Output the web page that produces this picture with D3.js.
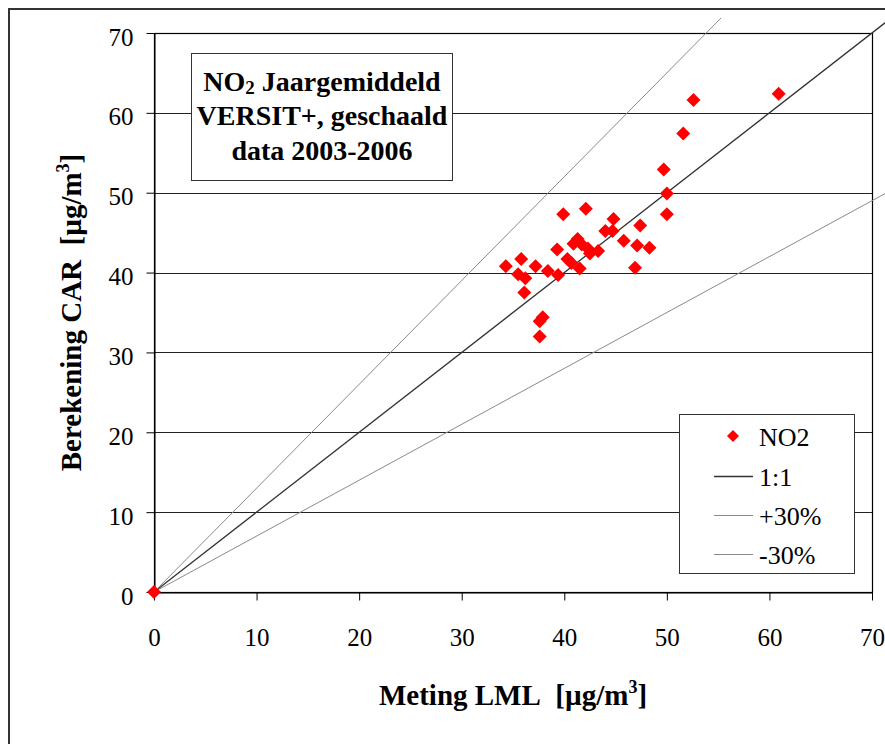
<!DOCTYPE html>
<html>
<head>
<meta charset="utf-8">
<script src="https://cdn.jsdelivr.net/npm/d3@7"></script>
<style>
  body { margin: 0; background: #fff; }
  svg { display: block; font-family: "Liberation Serif", "Times New Roman", serif; }
</style>
</head>
<body>
<div id="chart"></div>
<script>
// measured (Meting LML) vs computed (Berekening CAR), µg/m3
const meting = [0, 34.3, 35.8, 35.5, 36.2, 36.1, 37.2, 38.4, 39.4, 39.3, 37.6, 37.9, 37.6,
  39.9, 42.1, 44.8, 44.0, 44.7, 47.4, 45.8, 47.1, 48.3, 46.9, 41.3, 40.9, 41.7, 42.3,
  42.5, 43.3, 40.3, 40.7, 41.5, 49.7, 50.0, 50.0, 51.6, 52.6, 60.9];
const berekening = [0, 40.8, 41.7, 39.8, 39.3, 37.5, 40.8, 40.2, 39.7, 42.9, 33.9, 34.4, 32.0,
  47.3, 48.0, 46.7, 45.2, 45.2, 45.9, 44.0, 43.4, 43.1, 40.6, 44.2, 43.6, 43.5, 43.0,
  42.4, 42.7, 41.7, 41.2, 40.5, 52.9, 49.9, 47.3, 57.4, 61.6, 62.4];

// reference lines: start and end points [x, y]
const refNames = ['1:1', '+30%', '-30%'];
const refLines = [
  [[0, 0], [71.3, 71.3]],
  [[0, 0], [55.3, 71.9]],
  [[0, 0], [71.5, 50.05]]
];
const refColors = ['#333', '#8a8a8a', '#8a8a8a'];

const xTicks = [0, 10, 20, 30, 40, 50, 60, 70];
const yTicks = [0, 10, 20, 30, 40, 50, 60, 70];

const W = 885, H = 744;
const margin = { left: 154, top: 33, right: 13, bottom: 152 };
const pw = W - margin.left - margin.right;
const ph = H - margin.top - margin.bottom;

const svg = d3.select('#chart').append('svg')
  .attr('width', W).attr('height', H);

// outer chart border (runs off the page on right/bottom)
svg.append('rect')
  .attr('x', 9).attr('y', 9).attr('width', W).attr('height', H)
  .attr('fill', '#fff').attr('stroke', '#333').attr('stroke-width', 2);

const x = d3.scaleLinear().domain([0, 70]).range([margin.left, margin.left + pw]);
const y = d3.scaleLinear().domain([0, 70]).range([margin.top + ph, margin.top]);

// gridlines
svg.append('g')
  .selectAll('line')
  .data(yTicks.slice(1))
  .join('line')
  .attr('x1', x(0)).attr('x2', x(70))
  .attr('y1', d => Math.round(y(d)) + 0.5).attr('y2', d => Math.round(y(d)) + 0.5)
  .attr('stroke', '#222').attr('stroke-width', 1);

// plot border
svg.append('rect')
  .attr('x', x(0) + 0.5).attr('y', Math.round(y(70)) + 0.5)
  .attr('width', x(70) - x(0)).attr('height', y(0) - y(70))
  .attr('fill', 'none').attr('stroke', '#000').attr('stroke-width', 1.2);

// axes
const xAxis = svg.append('g')
  .attr('transform', `translate(0,${Math.round(y(0)) + 0.5})`)
  .call(d3.axisBottom(x).tickValues(xTicks).tickSize(8).tickSizeOuter(0));
xAxis.select('.domain').attr('stroke', '#000');
xAxis.selectAll('.tick line').attr('stroke', '#000');
xAxis.selectAll('text')
  .attr('y', 53).attr('dy', 0)
  .attr('font-size', 25).attr('fill', '#000')
  .attr('font-family', '"Liberation Serif", "Times New Roman", serif');

const yAxis = svg.append('g')
  .attr('transform', `translate(${x(0) + 0.5},0)`)
  .call(d3.axisLeft(y).tickValues(yTicks).tickSize(8).tickPadding(13).tickSizeOuter(0));
yAxis.select('.domain').attr('stroke', '#000');
yAxis.selectAll('.tick line').attr('stroke', '#000');
yAxis.selectAll('text')
  .attr('dy', '0.48em')
  .attr('font-size', 25).attr('fill', '#000')
  .attr('font-family', '"Liberation Serif", "Times New Roman", serif');

// reference lines
const line = d3.line().x(d => x(d[0])).y(d => y(d[1]));
svg.append('g')
  .selectAll('path')
  .data(refLines)
  .join('path')
  .attr('d', line)
  .attr('fill', 'none')
  .attr('stroke', (d, i) => refColors[i])
  .attr('stroke-width', (d, i) => i === 0 ? 1.3 : 1);

// diamonds
const diamond = r => `M0,${-r}L${r},0L0,${r}L${-r},0Z`;
svg.append('g')
  .selectAll('path')
  .data(meting.map((m, i) => [m, berekening[i]]))
  .join('path')
  .attr('transform', d => `translate(${x(d[0])},${y(d[1])})`)
  .attr('d', diamond(7))
  .attr('fill', '#ff0000');

// title box
const tb = svg.append('g');
tb.append('rect')
  .attr('x', 191.5).attr('y', 53.5).attr('width', 261).attr('height', 127)
  .attr('fill', '#fff').attr('stroke', '#333').attr('stroke-width', 1);
const tt = tb.append('text')
  .attr('text-anchor', 'middle')
  .attr('font-weight', 'bold').attr('font-size', 28).attr('fill', '#000');
const l1 = tt.append('tspan').attr('x', 322).attr('y', 91);
l1.append('tspan').text('NO');
l1.append('tspan').attr('font-size', 19).attr('dy', 3).text('2');
l1.append('tspan').attr('dy', -3).text(' Jaargemiddeld');
tt.append('tspan').attr('x', 322).attr('y', 125).text('VERSIT+, geschaald');
tt.append('tspan').attr('x', 322).attr('y', 160).text('data 2003-2006');

// legend
const lg = svg.append('g');
lg.append('rect')
  .attr('x', 679.5).attr('y', 414.5).attr('width', 175).attr('height', 159)
  .attr('fill', '#fff').attr('stroke', '#333').attr('stroke-width', 1);
lg.append('path')
  .attr('transform', 'translate(733,436)')
  .attr('d', diamond(6)).attr('fill', '#ff0000');
lg.append('text')
  .attr('x', 759).attr('y', 446)
  .attr('font-size', 26).attr('fill', '#000').text('NO2');
refNames.forEach((name, i) => {
  const ly = 476 + i * 39;
  lg.append('line')
    .attr('x1', 714).attr('x2', 753).attr('y1', ly + 0.5).attr('y2', ly + 0.5)
    .attr('stroke', refColors[i]).attr('stroke-width', i === 0 ? 1.3 : 1);
  lg.append('text')
    .attr('x', 759).attr('y', ly + 10)
    .attr('font-size', 26).attr('fill', '#000').text(name);
});

// axis titles
const xt = svg.append('text')
  .attr('x', x(35)).attr('y', 705)
  .attr('text-anchor', 'middle')
  .attr('font-weight', 'bold').attr('font-size', 29).attr('fill', '#000');
xt.append('tspan').text('Meting LML\u00a0\u00a0[µg/m');
xt.append('tspan').attr('font-size', 18).attr('dy', -12).text('3');
xt.append('tspan').attr('dy', 12).text(']');

const yt = svg.append('text')
  .attr('transform', `translate(81,${y(35)}) rotate(-90)`)
  .attr('text-anchor', 'middle')
  .attr('font-weight', 'bold').attr('font-size', 29).attr('fill', '#000');
yt.append('tspan').text('Berekening CAR\u00a0\u00a0[µg/m');
yt.append('tspan').attr('font-size', 18).attr('dy', -12).text('3');
yt.append('tspan').attr('dy', 12).text(']');
</script>
</body>
</html>
